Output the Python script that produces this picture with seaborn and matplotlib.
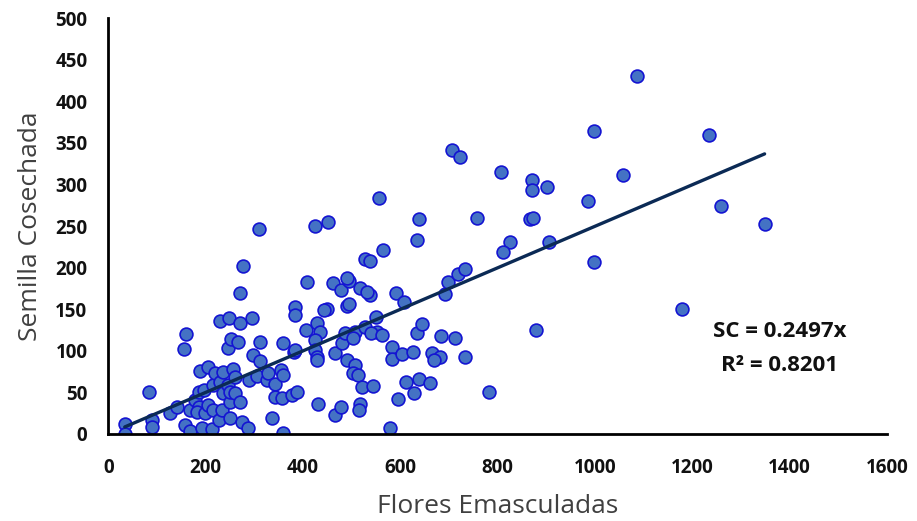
import numpy as np
import pandas as pd
import matplotlib
matplotlib.use("Agg")
import matplotlib.pyplot as plt
import seaborn as sns

# Flores emasculadas (x) y semilla cosechada (y)
flores = [
    34, 34, 84, 90, 90, 126, 142, 158, 168, 168, 160, 155, 179, 186, 186, 182,
    189, 196, 192, 199, 206, 206, 213, 215, 216, 220, 227, 229, 230, 233, 235,
    235, 246, 247, 248, 251, 251, 251, 252, 256, 261, 261, 266, 270, 271, 271,
    275, 288, 290, 296, 298, 305, 311, 312, 326, 329, 336, 343, 343, 356, 357,
    359, 360, 360, 377, 382, 384, 384, 387,
    408, 461, 478, 494, 518, 538, 532, 592, 607, 692, 699, 449, 444, 490, 494,
    551, 407, 429, 435, 425, 425, 429, 429, 384, 466, 480, 487, 507, 504, 528,
    552, 541, 562, 490, 507, 504, 514, 521, 545, 583, 583, 603, 627, 634, 644,
    684, 712, 665, 682, 670, 733, 613, 639, 661, 629, 596, 431, 466, 479, 517,
    515, 579,
    310, 425, 451, 276, 490, 706, 723, 807, 871, 871, 902, 1057, 557, 986, 639,
    757, 867, 873, 634, 826, 812, 906, 999, 565, 528, 538, 718, 733,
    879, 783, 1180, 1087, 1234, 999, 1260, 1349,
]
semilla = [
    12, 0, 50, 17, 9, 25, 33, 11, 3, 29, 120, 102, 41, 33, 51, 26,
    76, 53, 7, 25, 80, 35, 6, 59, 29, 73, 17, 136, 63, 29, 75,
    49, 103, 59, 140, 39, 19, 51, 114, 78, 69, 49, 111, 170, 134, 39,
    14, 7, 65, 139, 95, 70, 111, 88, 65, 73, 19, 60, 45, 77, 43,
    110, 71, 1, 47, 99, 153, 143, 50,
    183, 182, 173, 184, 176, 167, 171, 170, 159, 168, 183, 150, 149, 154, 156,
    141, 125, 133, 123, 113, 101, 93, 89, 101, 97, 109, 121, 123, 115, 129,
    123, 121, 119, 89, 83, 73, 71, 57, 58, 105, 90, 96, 99, 121, 132,
    118, 116, 98, 92, 89, 92, 63, 66, 61, 49, 42, 36, 23, 32, 36,
    29, 7,
    247, 250, 255, 202, 187, 341, 333, 315, 306, 293, 297, 312, 284, 280, 258,
    260, 258, 260, 233, 231, 219, 231, 207, 221, 211, 208, 193, 198,
    125, 50, 150, 431, 360, 364, 274, 253,
]
pendiente = 0.2497
r2 = 0.8201

df = pd.DataFrame({"Flores Emasculadas": flores, "Semilla Cosechada": semilla})

sns.set_style("white")
plt.rcParams["font.family"] = ["Open Sans", "DejaVu Sans"]

fig = plt.figure(figsize=(9.17, 5.21), dpi=100)
ax = fig.add_axes([0.118, 0.167, 0.849, 0.798])

sns.scatterplot(data=df, x="Flores Emasculadas", y="Semilla Cosechada", ax=ax,
                s=85, color="#4472C4", edgecolor="#1414D2", linewidth=1.2,
                zorder=2)

# linea de tendencia por el origen
xs = np.array([min(flores), max(flores)])
ax.plot(xs, pendiente * xs, color="#0B2A55", lw=2.4, zorder=3)

ax.text(1380, 123, f"SC = {pendiente}x", ha="center", va="center",
        fontsize=16, fontweight="bold", color="#111111")
ax.text(1380, 82, f"R² = {r2}", ha="center", va="center",
        fontsize=16, fontweight="bold", color="#111111")

ax.set_xlim(0, 1600)
ax.set_ylim(0, 500)
ax.set_xticks(range(0, 1601, 200))
ax.set_yticks(range(0, 501, 50))
ax.tick_params(length=0, labelsize=13.5, colors="#111111")
ax.tick_params(axis="y", pad=15)
ax.tick_params(axis="x", pad=17)
for lab in ax.get_xticklabels() + ax.get_yticklabels():
    lab.set_fontweight("bold")

ax.set_xlabel("Flores Emasculadas", fontsize=19, color="#404040", labelpad=12)
ax.set_ylabel("Semilla Cosechada", fontsize=19, color="#404040", labelpad=9)

sns.despine(ax=ax)
for sp in ["left", "bottom"]:
    ax.spines[sp].set_color("black")
    ax.spines[sp].set_linewidth(2)
    ax.spines[sp].set_zorder(4)

fig.savefig("out.png", dpi=100)
